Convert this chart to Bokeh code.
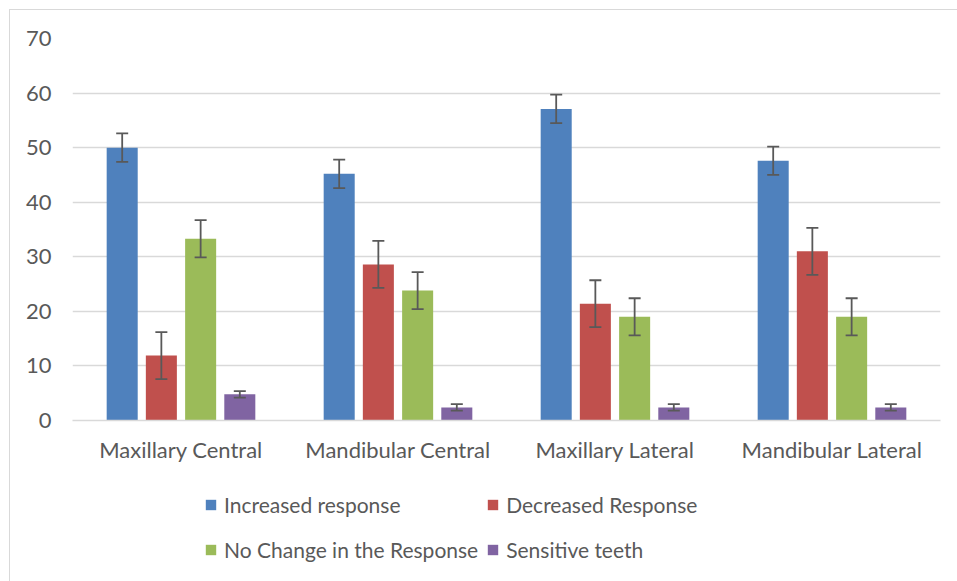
from bokeh.plotting import figure
from bokeh.models import ColumnDataSource, Whisker, Legend, LegendItem, FactorRange, TeeHead
from bokeh.transform import dodge
from bokeh.layouts import column
from bokeh.embed import file_html
from bokeh.resources import INLINE

categories = ["Maxillary Central", "Mandibular Central", "Maxillary Lateral", "Mandibular Lateral"]
series_names = ["Increased response", "Decreased Response", "No Change in the Response", "Sensitive teeth"]
increased = [50.0, 45.2, 57.1, 47.6]
decreased = [11.9, 28.6, 21.4, 31.0]
no_change = [33.3, 23.8, 19.0, 19.0]
sensitive = [4.8, 2.4, 2.4, 2.4]
increased_err = [2.6, 2.6, 2.6, 2.6]
decreased_err = [4.3, 4.3, 4.3, 4.3]
no_change_err = [3.4, 3.4, 3.4, 3.4]
sensitive_err = [0.6, 0.6, 0.6, 0.6]
y_ticks = [0, 10, 20, 30, 40, 50, 60, 70]

colors = ["#4f81bd", "#c0504d", "#9bbb59", "#8064a2"]
offsets = [-0.271, -0.0905, 0.0905, 0.271]
FONT = "Lato"
TXT = "#595959"
GRID = "#d9d9d9"
W = 947

p = figure(x_range=FactorRange(*categories), y_range=(0, 70),
           width=W, height=470, output_backend="svg", toolbar_location=None,
           min_border_left=62, min_border_right=17, min_border_top=28, min_border_bottom=60)
p.outline_line_color = None
p.background_fill_color = "white"
p.border_fill_color = "white"

p.xgrid.grid_line_color = None
p.ygrid.grid_line_color = GRID
p.ygrid.grid_line_width = 1.3
p.yaxis.ticker = y_ticks
p.yaxis.axis_line_color = None
p.yaxis.major_tick_line_color = None
p.yaxis.minor_tick_line_color = None
p.yaxis.major_label_standoff = 15
p.xaxis.axis_line_color = GRID
p.xaxis.axis_line_width = 1.3
p.xaxis.major_tick_line_color = None
p.xaxis.minor_tick_line_color = None
p.xaxis.major_label_standoff = 9
for ax in (p.xaxis, p.yaxis):
    ax.major_label_text_font = FONT
    ax.major_label_text_font_size = "22px"
    ax.major_label_text_color = TXT

# legend panel: zero-height copies of the bars, far outside its visible y range
p2 = figure(x_range=FactorRange(*categories), y_range=(1000, 1010),
            width=W, height=101, output_backend="svg", toolbar_location=None,
            x_axis_type=None, y_axis_type=None,
            min_border_left=0, min_border_right=0, min_border_top=0, min_border_bottom=0)
p2.outline_line_color = None
p2.grid.grid_line_color = None
p2.background_fill_color = "white"
p2.border_fill_color = "white"

vals = [increased, decreased, no_change, sensitive]
errs = [increased_err, decreased_err, no_change_err, sensitive_err]
items = []
for name, v, e, c, off in zip(series_names, vals, errs, colors, offsets):
    src = ColumnDataSource(dict(cat=categories, val=v,
                                upper=[a + b for a, b in zip(v, e)],
                                lower=[a - b for a, b in zip(v, e)]))
    p.vbar(x=dodge("cat", off, range=p.x_range), top="val", width=0.143,
           source=src, fill_color=c, line_color=None)
    w = Whisker(base=dodge("cat", off, range=p.x_range), upper="upper", lower="lower",
                source=src, line_color="#595959", line_width=1.8, level="overlay",
                upper_head=TeeHead(size=12, line_color="#595959", line_width=1.8),
                lower_head=TeeHead(size=12, line_color="#595959", line_width=1.8))
    p.add_layout(w)
    lr = p2.vbar(x=dodge("cat", off, range=p2.x_range), top="val", bottom="val", width=0.143,
                 source=src, fill_color=c, line_color=None)
    items.append(LegendItem(label=name, renderers=[lr]))

legend = Legend(items=items, ncols=2, orientation="horizontal", location=(132, 13.5))
legend.border_line_color = None
legend.background_fill_alpha = 0
legend.padding = 0
legend.margin = 0
legend.spacing = 8
legend.label_height = 37
legend.glyph_width = 13
legend.glyph_height = 13
legend.label_standoff = 7
legend.label_text_font = FONT
legend.label_text_font_size = "21px"
legend.label_text_color = TXT
p2.add_layout(legend, "center")

layout = column(p, p2, spacing=0,
                styles={"border-left": "1px solid #d9d9d9", "border-top": "1px solid #d9d9d9",
                        "margin-left": "9px", "margin-top": "9px"})

open("out.html", "w").write(file_html(layout, INLINE))
